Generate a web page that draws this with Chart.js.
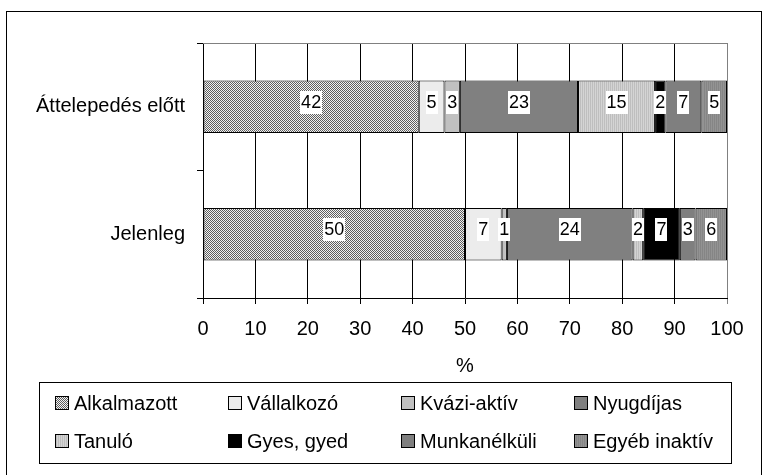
<!DOCTYPE html>
<html>
<head>
<meta charset="utf-8">
<script src="https://cdn.jsdelivr.net/npm/chart.js@4"></script>
<style>
  html, body { margin: 0; padding: 0; background: #fff; overflow: hidden; }
  #wrap { position: relative; width: 768px; height: 475px; }
</style>
</head>
<body>
<div id="wrap"><canvas id="chart" width="768" height="475"></canvas></div>
<script>
// --- Data ---
const categories = ['Áttelepedés előtt', 'Jelenleg'];
const seriesNames = ['Alkalmazott', 'Vállalkozó', 'Kvázi-aktív', 'Nyugdíjas', 'Tanuló', 'Gyes, gyed', 'Munkanélküli', 'Egyéb inaktív'];
const beforeValues = [42, 5, 3, 23, 15, 2, 7, 5];
const nowValues = [50, 7, 1, 24, 2, 7, 3, 6];
const xTickMin = 0, xTickMax = 100, xTickStep = 10;
const xTitle = '%';

const FONT = "'Liberation Sans', Arial, sans-serif";

// small canvas patterns like the old excel fills
const makePattern = (w, h, pixels) => {
  const c = document.createElement('canvas');
  c.width = w; c.height = h;
  const g = c.getContext('2d');
  pixels.forEach((col, i) => {
    g.fillStyle = col;
    g.fillRect(i % w, Math.floor(i / w), 1, 1);
  });
  return g.createPattern(c, 'repeat');
};

const fills = [
  makePattern(2, 2, ['#5e5e5e', '#f2f2f2', '#f2f2f2', '#5e5e5e']),
  '#ececec',
  '#c0c0c0',
  '#808080',
  makePattern(2, 1, ['#bebebe', '#d4d4d4']),
  '#000000',
  '#7f7f7f',
  makePattern(2, 1, ['#858585', '#939393'])
];

const sumBefore = beforeValues.reduce((a, b) => a + b, 0);
const sumNow = nowValues.reduce((a, b) => a + b, 0);

const datasets = seriesNames.map((name, i) => ({
  label: name,
  data: [beforeValues[i] / sumBefore * 100, nowValues[i] / sumNow * 100],
  labels: [beforeValues[i], nowValues[i]],
  backgroundColor: fills[i],
  borderColor: '#000',
  borderWidth: 1,
  borderSkipped: false,
  categoryPercentage: 1,
  barPercentage: 0.41
}));

// --- Plugins ---
const framePlugin = {
  id: 'frame',
  beforeDraw(chart) {
    const ctx = chart.ctx;
    ctx.save();
    ctx.fillStyle = '#fff';
    ctx.fillRect(0, 0, chart.width, chart.height);
    ctx.strokeStyle = '#000';
    ctx.lineWidth = 1;
    ctx.strokeRect(6.5, 11.5, 755, 520);
    ctx.restore();
  },
  afterDraw(chart) {
    const ctx = chart.ctx;
    const a = chart.chartArea;
    ctx.save();
    ctx.strokeStyle = '#808080';
    ctx.lineWidth = 1;
    ctx.beginPath();
    ctx.moveTo(a.left, a.top + 0.5);
    ctx.lineTo(a.right, a.top + 0.5);
    ctx.stroke();
    ctx.restore();
  }
};

const valueLabelPlugin = {
  id: 'valueLabels',
  afterDatasetsDraw(chart) {
    const ctx = chart.ctx;
    ctx.save();
    ctx.font = '18px ' + FONT;
    ctx.textAlign = 'center';
    ctx.textBaseline = 'middle';
    chart.data.datasets.forEach((ds, di) => {
      const meta = chart.getDatasetMeta(di);
      meta.data.forEach((bar, j) => {
        const txt = String(ds.labels[j]);
        const cx = (bar.x + bar.base) / 2;
        const cy = bar.y;
        const w = ctx.measureText(txt).width + 2;
        ctx.fillStyle = '#fff';
        ctx.fillRect(Math.round(cx - w / 2), Math.round(cy - 16), Math.round(w), 23);
        ctx.fillStyle = '#000';
        ctx.fillText(txt, cx, cy - 4);
      });
    });
    ctx.restore();
  }
};

const boxLegendPlugin = {
  id: 'boxLegend',
  afterDraw(chart) {
    const ctx = chart.ctx;
    ctx.save();
    ctx.strokeStyle = '#000';
    ctx.lineWidth = 1;
    ctx.strokeRect(39.5, 382.5, 692, 81);
    ctx.font = '20px ' + FONT;
    ctx.textBaseline = 'middle';
    ctx.textAlign = 'left';
    chart.data.datasets.forEach((ds, i) => {
      const col = i % 4, row = Math.floor(i / 4);
      const x = 55 + col * 173;
      const y = 403 + row * 38;
      ctx.fillStyle = ds.backgroundColor;
      ctx.fillRect(x, y - 7, 14, 14);
      ctx.strokeStyle = '#000';
      ctx.strokeRect(x + 0.5, y - 6.5, 13, 13);
      ctx.fillStyle = '#000';
      ctx.fillText(ds.label, x + 19, y + 1);
    });
    ctx.restore();
  }
};

// --- Chart ---
new Chart(document.getElementById('chart'), {
  type: 'bar',
  data: { labels: categories, datasets: datasets },
  options: {
    indexAxis: 'y',
    responsive: false,
    animation: false,
    layout: { padding: { top: 43, right: 41, bottom: 97, left: 0 } },
    plugins: {
      legend: { display: false },
      tooltip: { enabled: false }
    },
    scales: {
      x: {
        stacked: true,
        min: xTickMin,
        max: xTickMax,
        ticks: {
          stepSize: xTickStep,
          color: '#000',
          font: { family: FONT, size: 20 },
          padding: 13
        },
        grid: {
          color: (c) => (c.tick && c.tick.value === xTickMax) ? '#808080' : '#000',
          lineWidth: 1,
          tickLength: 6,
          drawOnChartArea: true
        },
        border: { color: '#000', width: 1 },
        title: {
          display: true,
          text: xTitle,
          color: '#000',
          font: { family: FONT, size: 20 },
          padding: { top: 6, bottom: 0 }
        },
        afterFit(scale) { scale.height = 80; }
      },
      y: {
        stacked: true,
        ticks: {
          color: '#000',
          font: { family: FONT, size: 20 },
          padding: 12
        },
        grid: {
          offset: true,
          drawOnChartArea: false,
          tickLength: 6,
          color: '#000'
        },
        border: { color: '#000', width: 1 },
        afterFit(scale) { scale.width = 203; }
      }
    }
  },
  plugins: [framePlugin, valueLabelPlugin, boxLegendPlugin]
});
</script>
</body>
</html>
